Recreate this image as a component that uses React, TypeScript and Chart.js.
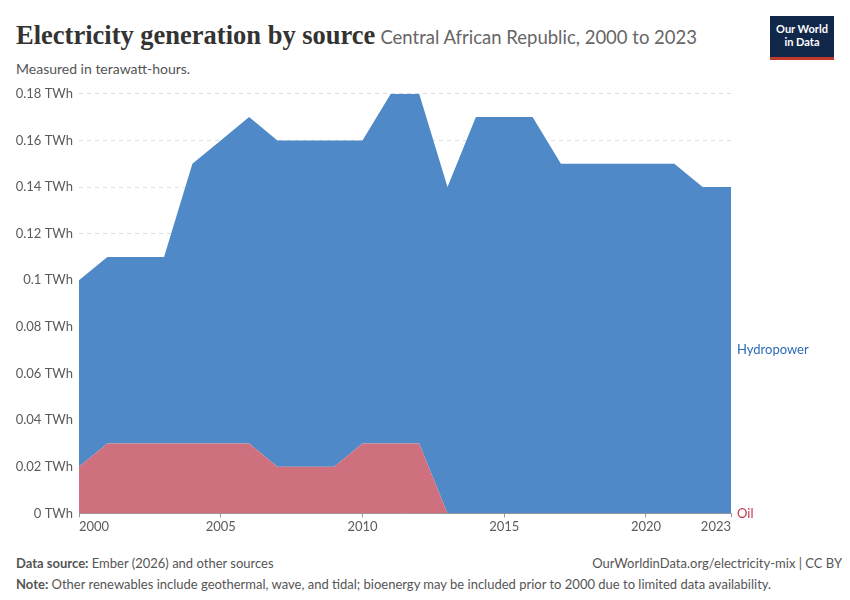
import React, { useEffect, useRef } from "react";
import { Chart, registerables } from "chart.js";
Chart.register(...registerables);

const years = [2000,2001,2002,2003,2004,2005,2006,2007,2008,2009,2010,2011,2012,2013,2014,2015,2016,2017,2018,2019,2020,2021,2022,2023];
const total = [0.10,0.11,0.11,0.11,0.15,0.16,0.17,0.16,0.16,0.16,0.16,0.18,0.18,0.14,0.17,0.17,0.17,0.15,0.15,0.15,0.15,0.15,0.14,0.14];
const oil = [0.02,0.03,0.03,0.03,0.03,0.03,0.03,0.02,0.02,0.02,0.03,0.03,0.03,0,0,0,0,0,0,0,0,0,0,0];
const hydro = total.map((t, i) => Math.round((t - oil[i]) * 1000) / 1000);
const xTicks = [2000, 2005, 2010, 2015, 2020, 2023];
const yTicks = [0, 0.02, 0.04, 0.06, 0.08, 0.1, 0.12, 0.14, 0.16, 0.18];

const HYDRO = "#5089c8";
const OIL = "#cf707f";

export default function App() {
  const ref = useRef<HTMLCanvasElement>(null);
  useEffect(() => {
    const labelsPlugin = {
      id: "endLabels",
      afterDatasetsDraw(chart: any) {
        const { ctx, chartArea, scales } = chart;
        ctx.save();
        ctx.font = "13px Lato";
        ctx.textBaseline = "middle";
        const x = chartArea.right + 6;
        ctx.fillStyle = "#c0394f";
        ctx.fillText("Oil", x, scales.y.getPixelForValue(0));
        ctx.fillStyle = "#2c6bb5";
        ctx.fillText("Hydropower", x, scales.y.getPixelForValue(hydro[hydro.length - 1] / 2));
        ctx.restore();
      },
    };
    const chart = new Chart(ref.current!, {
      type: "line",
      data: {
        datasets: [
          { label: "Oil", data: years.map((y, i) => ({ x: y, y: oil[i] })), backgroundColor: OIL, borderColor: OIL, borderWidth: 0, pointRadius: 0, fill: "origin", tension: 0 },
          { label: "Hydropower", data: years.map((y, i) => ({ x: y, y: hydro[i] })), backgroundColor: HYDRO, borderColor: HYDRO, borderWidth: 0, pointRadius: 0, fill: "-1", tension: 0 },
        ],
      },
      plugins: [labelsPlugin],
      options: {
        animation: false,
        responsive: false,
        layout: { padding: { right: 111, top: 0, bottom: 0 } },
        plugins: { legend: { display: false }, tooltip: { enabled: false } },
        scales: {
          x: {
            type: "linear", min: 2000, max: 2023,
            afterBuildTicks: (s: any) => { s.ticks = xTicks.map((v) => ({ value: v })); },
            ticks: { color: "#5b5b5b", font: { family: "Lato", size: 13 }, callback: (v: any) => String(v), maxRotation: 0, padding: 2, align: "inner" },
            grid: { display: true, drawOnChartArea: false, drawTicks: true, tickLength: 4, color: "#999" },
            border: { color: "#999" },
          },
          y: {
            stacked: true, min: 0, max: 0.18,
            afterBuildTicks: (s: any) => { s.ticks = yTicks.map((v) => ({ value: v })); },
            afterFit: (s: any) => { s.width = 71; },
            ticks: { color: "#5b5b5b", font: { family: "Lato", size: 13 }, callback: (v: any) => (v === 0 ? "0" : String(+v.toFixed(2))) + " TWh", padding: 6 },
            grid: { color: "#dddddd", drawTicks: false },
            border: { display: false, dash: [4, 4] },
          },
        },
      },
    });
    return () => chart.destroy();
  }, []);
  return (
    <div style={{ fontFamily: "Lato, sans-serif", width: 834, position: "relative", height: 584 }}>
      <div style={{ position: "absolute", left: 8, top: 12, whiteSpace: "nowrap" }}>
        <span style={{ fontFamily: "'Liberation Serif', serif", fontWeight: "bold", fontSize: 26.5, color: "#333" }}>Electricity generation by source</span>
        <span style={{ fontSize: 18.5, color: "#666", marginLeft: 5 }}>Central African Republic, 2000 to 2023</span>
      </div>
      <div style={{ position: "absolute", left: 8, top: 52, fontSize: 14, color: "#555" }}>Measured in terawatt-hours.</div>
      <div style={{ position: "absolute", left: 762, top: 8, width: 64, height: 44, background: "#12284b", color: "#fff", fontSize: 11, fontWeight: "bold", textAlign: "center", lineHeight: "13px", paddingTop: 6, boxSizing: "border-box", borderBottom: "3px solid #c0392b" }}>Our World<br />in Data</div>
      <canvas ref={ref} width={834} height={457} style={{ position: "absolute", left: 0, top: 72 }} />
      <div style={{ position: "absolute", left: 8, top: 547, fontSize: 13, color: "#555" }}><b>Data source:</b> Ember (2026) and other sources</div>
      <div style={{ position: "absolute", right: 0, top: 547, fontSize: 13, color: "#555" }}>OurWorldinData.org/electricity-mix | CC BY</div>
      <div style={{ position: "absolute", left: 8, top: 568, fontSize: 13, color: "#555" }}><b>Note:</b> Other renewables include geothermal, wave, and tidal; bioenergy may be included prior to 2000 due to limited data availability.</div>
    </div>
  );
}
